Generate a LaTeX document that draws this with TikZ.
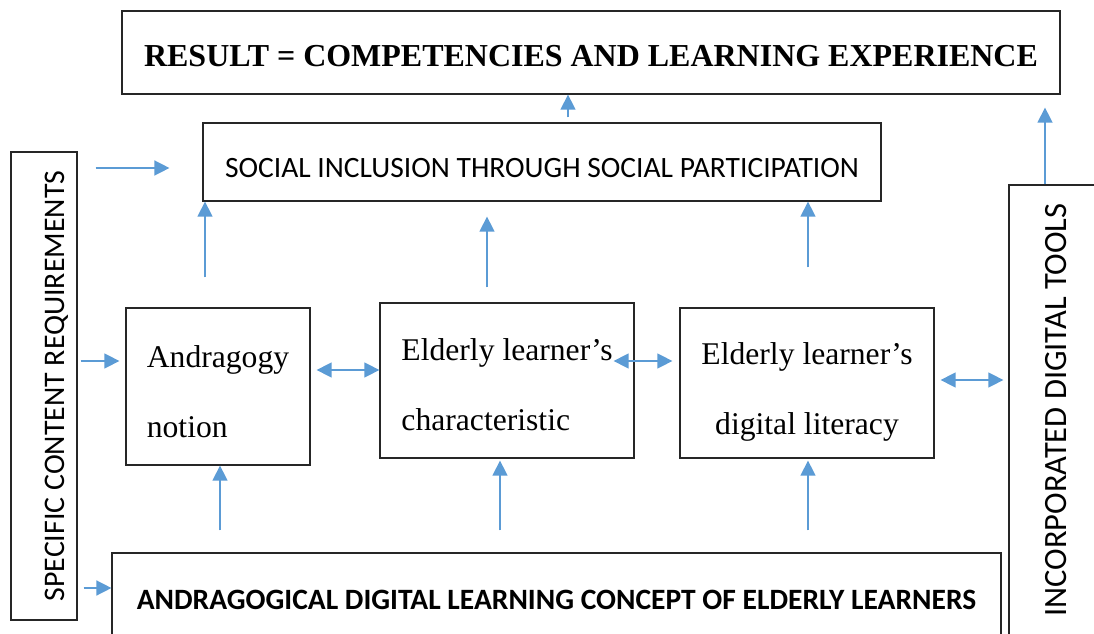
\documentclass[tikz,border=0pt]{standalone}
\usepackage{fontspec}
\usepackage{graphicx}
\setmainfont{Liberation Serif}
\newfontfamily\calibri{Carlito}
\usetikzlibrary{arrows.meta}
\definecolor{arrowblue}{RGB}{91,155,213}
\newcommand{\boxcolor}{black!85}
\newcommand{\tip}{Triangle[length=8.5pt,width=8.5pt]}

\tikzset{
  box/.style={draw=\boxcolor, line width=0.75pt, rectangle, inner sep=0pt},
  serif/.style={font=\fontsize{18}{40}\selectfont},
  link/.style={draw=arrowblue, line width=0.8pt, -{\tip}},
  twoway/.style={draw=arrowblue, line width=0.8pt, {\tip}-{\tip}}
}

\begin{document}
\begin{tikzpicture}[x=0.02cm, y=-0.02cm]
\clip (0,0) rectangle (1094,634);
\fill[white] (0,0) rectangle (1094,634);

% top and second row
\node[box, minimum width=18.76cm, minimum height=1.66cm, text height=16pt, text depth=0pt, font=\fontsize{18.2}{22}\selectfont\bfseries] (res) at (591,52.5) {RESULT = COMPETENCIES AND LEARNING EXPERIENCE};
\node[box, minimum width=13.56cm, minimum height=1.56cm, text height=17.6pt, text depth=0pt, font=\calibri\fontsize{16.8}{20}\selectfont] (soc) at (542,162) {SOCIAL INCLUSION THROUGH SOCIAL PARTICIPATION};

% side columns
\node[box, font=\calibri\fontsize{17}{20}\selectfont, minimum width=1.32cm, minimum height=9.36cm] (spec) at (44,386) {\rotatebox{90}{\raisebox{0pt}[23.5pt][0pt]{SPECIFIC CONTENT REQUIREMENTS}}};
\node[box, font=\calibri\fontsize{18.5}{22}\selectfont, minimum width=1.88cm, minimum height=9cm] (tools) at (1056,410) {\rotatebox{90}{INCORPORATED DIGITAL TOOLS}};

% the three middle boxes
\node[box, serif, align=left, minimum width=3.68cm, minimum height=3.14cm] (andr) at (218,386.5) {\rule{0pt}{18pt}Andragogy\\notion};
\node[box, serif, align=left, minimum width=5.08cm, minimum height=3.1cm] (char) at (507,380.5) {\rule{0pt}{17.4pt}Elderly learner’s\\characteristic};
\node[box, serif, align=center, minimum width=5.08cm, minimum height=3cm] (lit) at (807,383) {\rule{0pt}{22.5pt}Elderly learner’s\\digital literacy};

% bottom
\node[box, font=\calibri\fontsize{16.8}{20}\selectfont\bfseries, minimum width=17.78cm, minimum height=1.88cm] (conc) at (556.5,600) {ANDRAGOGICAL DIGITAL LEARNING CONCEPT OF ELDERLY LEARNERS};

% upward links
\draw[link, shorten <=0.1cm] (soc.north -| 568,0) -- (res.south -| 568,0);
\draw[link, shorten >=0.26cm] (tools.north -| 1045,0) -- (res.south -| 1045,0);
\draw[link, shorten <=0.6cm] (andr.north -| 205,0) -- (soc.south -| 205,0);
\draw[link, shorten <=0.3cm, shorten >=0.3cm] (char.north -| 487,0) -- (soc.south -| 487,0);
\draw[link, shorten <=0.8cm] (lit.north -| 808,0) -- (soc.south -| 808,0);
\draw[link, shorten <=0.44cm] (conc.north -| 220,0) -- (andr.south -| 220,0);
\draw[link, shorten <=0.44cm, shorten >=0.04cm] (conc.north -| 500,0) -- (char.south -| 500,0);
\draw[link, shorten <=0.44cm, shorten >=0.04cm] (conc.north -| 808,0) -- (lit.south -| 808,0);

% links to the right
\draw[link, shorten <=0.36cm, shorten >=0.66cm] (spec.east |- 0,168) -- (soc.west |- 0,168);
\draw[link, shorten <=0.06cm, shorten >=0.12cm] (spec.east |- 0,361) -- (andr.west |- 0,361);
\draw[link, shorten <=0.12cm] (spec.east |- 0,588) -- (conc.west |- 0,588);

% both ways
\draw[twoway, shorten <=0.12cm] (andr.east |- 0,370) -- (char.west |- 0,370);
\draw[twoway, shorten <=-0.42cm, shorten >=0.14cm] (char.east |- 0,361) -- (lit.west |- 0,361);
\draw[twoway, shorten <=0.12cm, shorten >=0.1cm] (lit.east |- 0,380) -- (tools.west |- 0,380);

\end{tikzpicture}
\end{document}
